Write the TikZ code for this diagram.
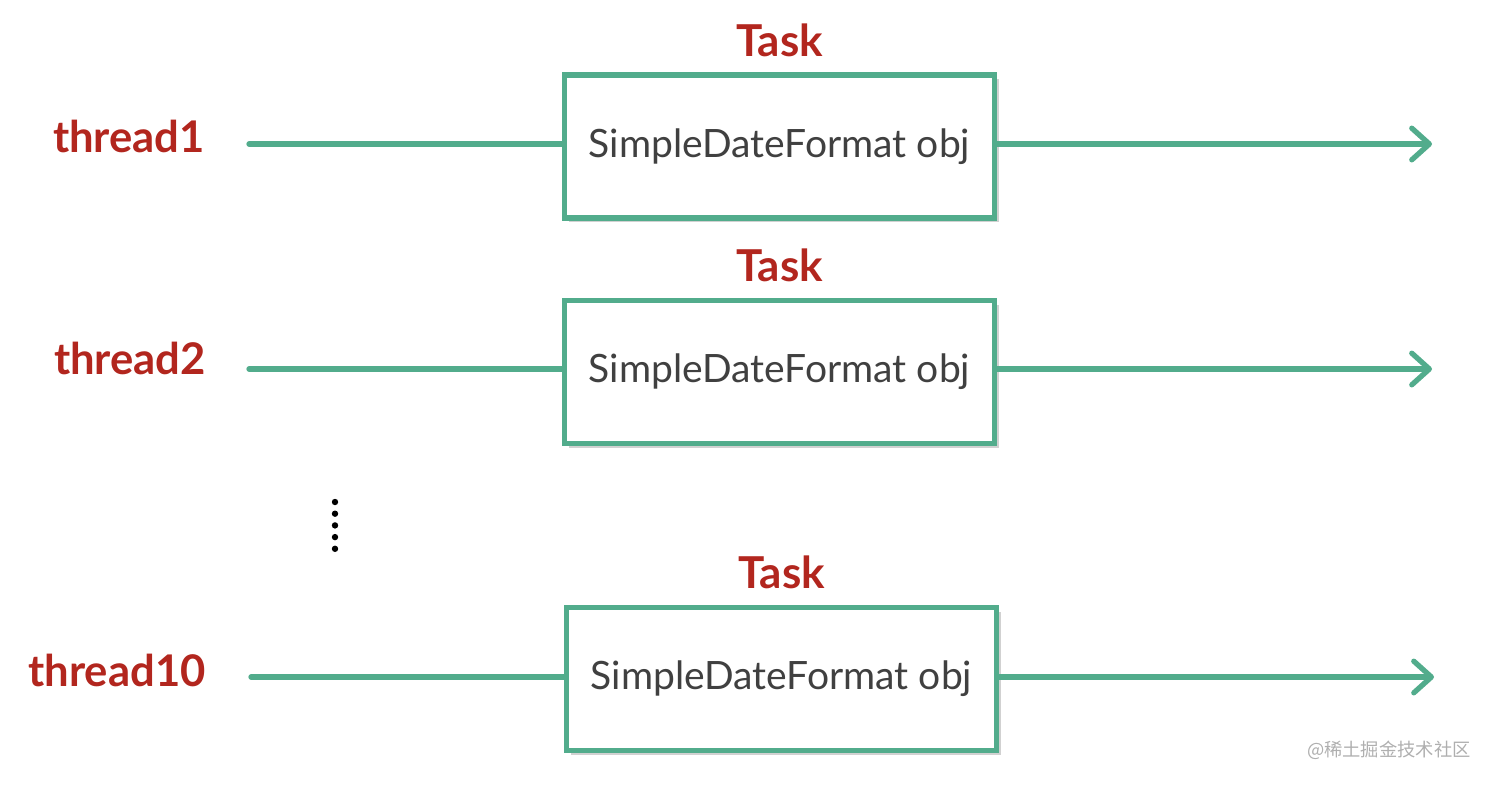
\documentclass[tikz,border=0pt]{standalone}
\usepackage{fontspec}
\setmainfont{Lato}
\newfontfamily\cjkfont{Noto Sans CJK SC}
\usetikzlibrary{arrows.meta, positioning, shadows}
\definecolor{TaskGreen}{RGB}{82, 172, 140}
\definecolor{TaskRed}{RGB}{178, 38, 30}
\definecolor{TaskText}{RGB}{64, 64, 64}
\definecolor{TaskMark}{RGB}{175, 175, 175}

\tikzset{
  objbox/.style={draw=TaskGreen, line width=1.5pt, fill=white,
    minimum width=4.3cm, minimum height=1.43cm, inner sep=0pt,
    text=TaskText, font=\fontsize{11.1}{13}\selectfont,
    drop shadow={shadow xshift=1.2pt, shadow yshift=-1.2pt, fill=black, opacity=0.18}},
  tasklabel/.style={text=TaskRed, font=\fontsize{12.5}{15}\selectfont\bfseries, inner sep=0pt},
  threadlabel/.style={text=TaskRed, font=\fontsize{12.4}{15}\selectfont\bfseries, inner sep=0pt},
  flow/.style={draw=TaskGreen, line width=1.5pt, line cap=round},
  flowarrow/.style={flow, -{Straight Barb[length=5pt, width=9pt, line width=1.5pt, line cap=round, round]}}
}

\begin{document}
\begin{tikzpicture}[x=0.01cm, y=-0.01cm]
    \useasboundingbox (0,0) rectangle (1494,784);

    % first thread
    \node[objbox] (obj1) at (779.5,146.5) {SimpleDateFormat obj};
    \node[tasklabel, above=0.15cm of obj1] (task1) {Task};
    \node[threadlabel] (thread1) at (129,136) {thread1};
    \coordinate (in1) at (249,144);
    \coordinate (out1) at (1432,144);
    \draw[flow] (in1) -- (in1 -| obj1.west);
    \draw[flowarrow] (out1 -| obj1.east) -- (out1);

    % second thread
    \node[objbox] (obj2) at (779.5,372) {SimpleDateFormat obj};
    \node[tasklabel, above=0.15cm of obj2] (task2) {Task};
    \node[threadlabel] (thread2) at (130,358) {thread2};
    \coordinate (in2) at (249,369);
    \coordinate (out2) at (1432,369);
    \draw[flow] (in2) -- (in2 -| obj2.west);
    \draw[flowarrow] (out2 -| obj2.east) -- (out2);

    % the ones in between
    \foreach \k in {0,...,4}
      \fill (335,{502+\k*11.7}) circle (3.2);

    % tenth thread
    \node[objbox] (obj10) at (781.5,679) {SimpleDateFormat obj};
    \node[tasklabel, above=0.15cm of obj10] (task10) {Task};
    \node[threadlabel] (thread10) at (117,670) {thread10};
    \coordinate (in10) at (251,677);
    \coordinate (out10) at (1434,677);
    \draw[flow] (in10) -- (in10 -| obj10.west);
    \draw[flowarrow] (out10 -| obj10.east) -- (out10);

    \node[text=TaskMark, font=\cjkfont\fontsize{5.2}{6}\selectfont, anchor=east] (mark) at (1483,750) {@稀土掘金技术社区};
  \end{tikzpicture}
\end{document}
